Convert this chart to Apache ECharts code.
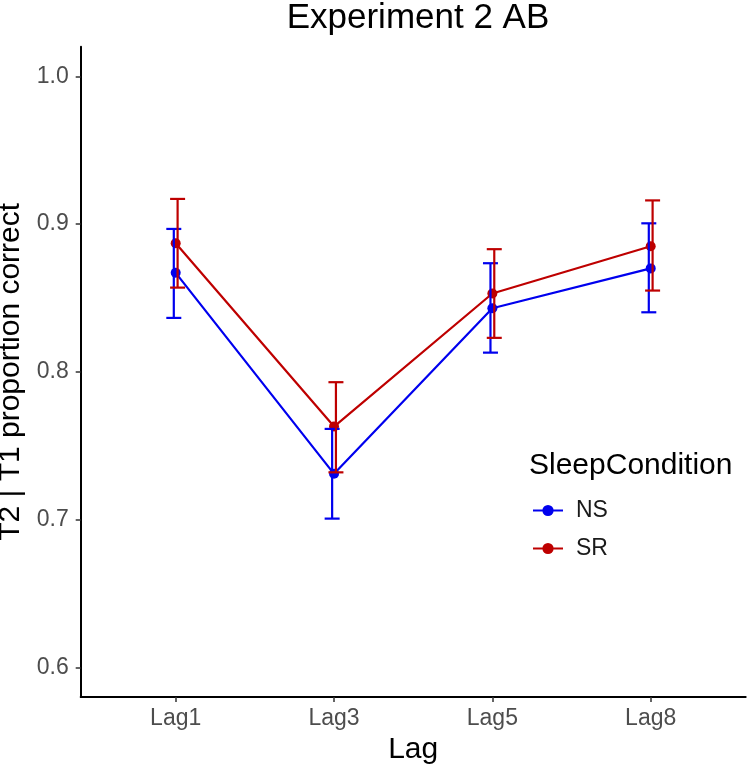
<!DOCTYPE html>
<html>
<head>
<meta charset="utf-8">
<script src="https://cdn.jsdelivr.net/npm/echarts@6/dist/echarts.min.js"></script>
<style>html,body{margin:0;padding:0;background:#fff}#c{width:747px;height:766px}</style>
</head>
<body>
<div id="c"></div>
<script>
var categories = ['Lag1', 'Lag3', 'Lag5', 'Lag8'];
var yTicks = [0.6, 0.7, 0.8, 0.9, 1.0];
var nsMean = [0.867, 0.731, 0.843, 0.870];
var nsLow  = [0.8365, 0.7007, 0.813, 0.8403];
var nsHigh = [0.8967, 0.7614, 0.8735, 0.9005];
var srMean = [0.887, 0.763, 0.853, 0.885];
var srLow  = [0.857, 0.732, 0.823, 0.855];
var srHigh = [0.917, 0.793, 0.883, 0.916];

var BLUE = '#0000EE', RED = '#BE0000';
var FONT = '"Liberation Sans", Arial, sans-serif';

function pts(vals) { return vals.map(function (v, i) { return [i + 1, v]; }); }
function errs(low, high, dx) { return low.map(function (l, i) { return [i + 1 + dx, l, high[i]]; }); }

function errRender(color) {
  return function (params, api) {
    var x = api.value(0);
    var lo = api.coord([x, api.value(1)]);
    var hi = api.coord([x, api.value(2)]);
    var hw = 7.5;
    var st = { stroke: color, lineWidth: 2.2 };
    return {
      type: 'group',
      children: [
        { type: 'line', shape: { x1: lo[0], y1: lo[1], x2: hi[0], y2: hi[1] }, style: st },
        { type: 'line', shape: { x1: lo[0] - hw, y1: lo[1], x2: lo[0] + hw, y2: lo[1] }, style: st },
        { type: 'line', shape: { x1: hi[0] - hw, y1: hi[1], x2: hi[0] + hw, y2: hi[1] }, style: st }
      ]
    };
  };
}

var chart = echarts.init(document.getElementById('c'), null, { renderer: 'canvas' });
chart.setOption({
  animation: false,
  backgroundColor: '#fff',
  textStyle: { fontFamily: FONT },
  title: [
    { text: 'Experiment 2 AB', left: 413, top: -4, textAlign: 'center',
      textStyle: { fontFamily: FONT, fontSize: 35, fontWeight: 'normal', color: '#000' } },
    { text: 'SleepCondition', left: 524, top: 446,
      textStyle: { fontFamily: FONT, fontSize: 30, fontWeight: 'normal', color: '#000' } }
  ],
  legend: {
    data: ['NS', 'SR'],
    orient: 'vertical',
    left: 527, top: 494,
    itemWidth: 30, itemHeight: 14,
    itemGap: 15,
    textStyle: { fontFamily: FONT, fontSize: 23, color: '#1a1a1a', padding: [0, 0, 0, 8] }
  },
  grid: { left: 80.7, right: 1.3, top: 46.7, bottom: 69, containLabel: false, outerBoundsMode: 'none' },
  xAxis: {
    type: 'value', min: 0.4, max: 4.6,
    splitLine: { show: false },
    axisLine: { lineStyle: { color: '#000', width: 2 } },
    axisTick: { show: true, customValues: [1, 2, 3, 4], length: 5, lineStyle: { color: '#333', width: 1.5 } },
    axisLabel: { customValues: [1, 2, 3, 4], margin: 10, fontSize: 23, color: '#4D4D4D', fontFamily: FONT,
      formatter: function (v) { return categories[Math.round(v) - 1] || ''; } },
    name: 'Lag', nameLocation: 'middle', nameGap: 38,
    nameTextStyle: { fontSize: 30, color: '#000', fontFamily: FONT }
  },
  yAxis: {
    type: 'value', min: 0.58, max: 1.02,
    splitLine: { show: false },
    axisLine: { show: true, lineStyle: { color: '#000', width: 2 } },
    axisTick: { show: true, customValues: yTicks, length: 5, lineStyle: { color: '#333', width: 1.5 } },
    axisLabel: { customValues: yTicks, margin: 12, fontSize: 23, color: '#4D4D4D', fontFamily: FONT,
      formatter: function (v) { return v.toFixed(1); } },
    name: 'T2 | T1 proportion correct', nameLocation: 'middle', nameGap: 46,
    nameTextStyle: { fontSize: 30, color: '#000', fontFamily: FONT }
  },
  series: [
    { name: 'NS', type: 'line', data: pts(nsMean), z: 2, color: BLUE,
      lineStyle: { color: BLUE, width: 2.2 }, itemStyle: { color: BLUE },
      symbol: 'circle', symbolSize: 10, showSymbol: true },
    { name: 'SR', type: 'line', data: pts(srMean), z: 2, color: RED,
      lineStyle: { color: RED, width: 2.2 }, itemStyle: { color: RED },
      symbol: 'circle', symbolSize: 10, showSymbol: true },
    { name: 'NS err', type: 'custom', data: errs(nsLow, nsHigh, -0.012), z: 3,
      encode: { x: 0, y: [1, 2] }, renderItem: errRender(BLUE) },
    { name: 'SR err', type: 'custom', data: errs(srLow, srHigh, 0.012), z: 4,
      encode: { x: 0, y: [1, 2] }, renderItem: errRender(RED) }
  ]
});
</script>
</body>
</html>
